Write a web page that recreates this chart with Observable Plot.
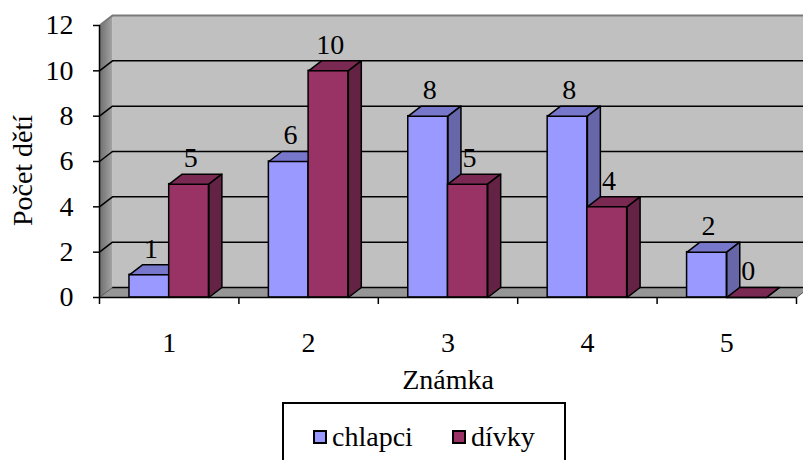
<!DOCTYPE html>
<html>
<head>
<meta charset="utf-8">
<script src="https://cdn.jsdelivr.net/npm/d3@7"></script>
<script src="https://cdn.jsdelivr.net/npm/@observablehq/plot@0.6"></script>
<style>
  body { margin: 0; background: #fff; font-family: "Liberation Serif", "Times New Roman", serif; }
  #chart { position: relative; width: 803px; height: 460px; overflow: hidden; }
  #chart svg text { font-family: "Liberation Serif", "Times New Roman", serif !important; font-size: 28px !important; fill: #000; }
  .legend {
    position: absolute; left: 282px; top: 402px; width: 284px; height: 70px;
    box-sizing: border-box; border: 2px solid #000; background: #fff;
    font-size: 28px; color: #000; line-height: 1;
  }
  .legend .item { position: absolute; top: 19px; display: flex; align-items: center; }
  .legend .sw { width: 10px; height: 10px; border: 2px solid #000; margin-right: 5px; }
</style>
</head>
<body>
<div id="chart"></div>
<script>
// Známky žáků podle pohlaví
const znamky = [1, 2, 3, 4, 5];
const chlapci = [1, 6, 8, 8, 2];
const divky = [5, 10, 5, 4, 0];
const serie = ["chlapci", "dívky"];
const yTicks = [0, 2, 4, 6, 8, 10, 12];

const barvy = {
  chlapci: {front: "#9999FF", top: "#7777CC", side: "#6666A8"},
  "dívky": {front: "#993366", top: "#7A2952", side: "#642244"}
};

// depth of the 3D box, in data units (x: category, y: count)
const dX = 0.093, dY = 0.44;
const barW = 0.285;
const x0 = 0.5, x1 = 5.5, yMax = 12;

const rows = [];
znamky.forEach((z, i) => {
  rows.push({serie: "chlapci", z, v: chlapci[i], a: z - barW, b: z});
  rows.push({serie: "dívky", z, v: divky[i], a: z, b: z + barW});
});

const poly = (pts, key, fill) => pts.concat([pts[0]]).map(([x, y]) => ({x, y, key, fill}));
const topFace = r => poly([[r.a, r.v], [r.b, r.v], [r.b + dX, r.v + dY], [r.a + dX, r.v + dY]], r.serie + r.z + "t", barvy[r.serie].top);
const sideFace = r => poly([[r.b, 0], [r.b, r.v], [r.b + dX, r.v + dY], [r.b + dX, dY]], r.serie + r.z + "s", barvy[r.serie].side);

const backWall = poly([[x0 + dX, dY], [x1 + dX, dY], [x1 + dX, yMax + dY], [x0 + dX, yMax + dY]], "back", "#C0C0C0");
const leftWall = poly([[x0, 0], [x0, yMax], [x0 + dX, yMax + dY], [x0 + dX, dY]], "left", "url(#wallGrad)");
const floor = poly([[x0, 0], [x1, 0], [x1 + dX, dY], [x0 + dX, dY]], "floor", "#969696");

const barMarks = serie.flatMap(s => {
  const rs = rows.filter(r => r.serie === s);
  return [
    Plot.rect(rs, {x1: "a", x2: "b", y1: 0, y2: "v", fill: barvy[s].front, stroke: "#000", strokeWidth: 1.5}),
    Plot.line(rs.flatMap(topFace), {x: "x", y: "y", z: "key", fill: "fill", stroke: "#000", strokeWidth: 1.5, strokeLinejoin: "round"}),
    Plot.line(rs.flatMap(sideFace), {x: "x", y: "y", z: "key", fill: "fill", stroke: "#000", strokeWidth: 1.5, strokeLinejoin: "round"})
  ];
});

const chart = Plot.plot({
  width: 803,
  height: 400,
  marginLeft: 99,
  marginRight: 7,
  marginTop: 25,
  marginBottom: 103,
  style: {background: "transparent", overflow: "hidden"},
  x: {domain: [x0, x1]},
  y: {domain: [0, yMax]},
  color: {type: "identity"},
  marks: [
    // walls and floor
    Plot.line(backWall, {x: "x", y: "y", fill: "fill", stroke: "none"}),
    Plot.line(leftWall, {x: "x", y: "y", fill: "fill", stroke: "none"}),
    Plot.line(floor, {x: "x", y: "y", fill: "fill", stroke: "none"}),
    // gridlines on the back wall and the left wall
    Plot.ruleY(yTicks.slice(0, -1), {y: d => d + dY, x1: x0 + dX, x2: x1 + dX, stroke: "#000", strokeWidth: 1.5}),
    Plot.link(yTicks.slice(1, -1), {x1: x0, y1: d => d, x2: x0 + dX, y2: d => d + dY, stroke: "#000", strokeWidth: 1.5}),
    Plot.ruleY([yMax], {y: d => d + dY, x1: x0 + dX, x2: x1 + dX, stroke: "#7a7a7a", strokeWidth: 2}),
    Plot.link([yMax], {x1: x0, y1: d => d, x2: x0 + dX, y2: d => d + dY, stroke: "#7a7a7a", strokeWidth: 2}),
    Plot.link([0], {x1: x0, y1: 0, x2: x0 + dX, y2: dY, stroke: "#555", strokeWidth: 1}),
    Plot.link([0], {x1: x1, y1: 0, x2: x1 + dX, y2: dY, stroke: "#555", strokeWidth: 1}),
    // value labels (behind the bars, as in the 3D view)
    Plot.text(rows, {x: r => (r.a + r.b) / 2 + 0.012, y: "v", text: r => String(r.v), dy: -26, fill: "#000"}),
    // bars
    ...barMarks,
    // axes
    Plot.ruleY([0], {stroke: "#000", strokeWidth: 1.5}),
    Plot.ruleX([x0], {stroke: "#000", strokeWidth: 1.5}),
    Plot.axisY({ticks: yTicks, tickSize: 6, tickPadding: 20, label: null, stroke: "#000", strokeWidth: 1.5}),
    Plot.text(["Počet dětí"], {frameAnchor: "left", textAnchor: "middle", lineAnchor: "middle", text: d => d, rotate: -90, dx: -76, dy: 9}),
    Plot.axisX({ticks: znamky, tickSize: 0, tickPadding: 35, tickFormat: d => String(d), label: "Známka", labelAnchor: "center", labelOffset: 91, labelArrow: "none"}),
    Plot.axisX({ticks: d3.range(x0, x1 + 0.01, 1), tickSize: 7, tickFormat: () => "", label: null, stroke: "#000", strokeWidth: 1.5})
  ]
});

// gradient for the shaded left wall
const svg = d3.select(chart.tagName.toLowerCase() === "svg" ? chart : chart.querySelector("svg"));
const grad = svg.insert("defs", ":first-child").append("linearGradient").attr("id", "wallGrad").attr("x1", "0").attr("x2", "1").attr("y1", "0").attr("y2", "0");
grad.append("stop").attr("offset", "0").attr("stop-color", "#6e6e6e");
grad.append("stop").attr("offset", "1").attr("stop-color", "#a4a4a4");

const root = document.getElementById("chart");
root.appendChild(chart);

// legend
const legend = document.createElement("div");
legend.className = "legend";
const legendPos = {chlapci: 29, "dívky": 168};
serie.forEach(s => {
  const item = document.createElement("div");
  item.className = "item";
  item.style.left = legendPos[s] + "px";
  const sw = document.createElement("span");
  sw.className = "sw";
  sw.style.background = barvy[s].front;
  const t = document.createElement("span");
  t.textContent = s;
  item.append(sw, t);
  legend.appendChild(item);
});
root.appendChild(legend);
</script>
</body>
</html>
